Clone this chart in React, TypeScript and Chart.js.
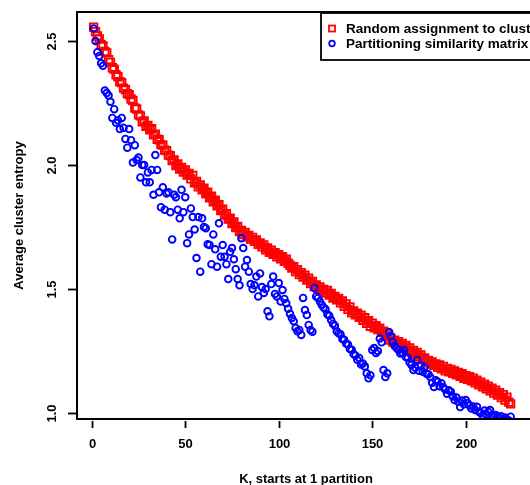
import React, { useEffect, useRef } from "react";
import { Chart, registerables } from "chart.js";

Chart.register(...registerables);

const redLabel = "Random assignment to clusters";
const blueLabel = "Partitioning similarity matrix";
const xTitle = "K, starts at 1 partition";
const yTitle = "Average cluster entropy";
const xTicks = [0, 50, 100, 150, 200];
const yTicks = [1.0, 1.5, 2.0, 2.5];

// Random assignment to clusters, K = 1..224
const redValues = [
  2.556, 2.538, 2.520, 2.508, 2.486, 2.480, 2.458, 2.452, 2.425, 2.414,
  2.392, 2.386, 2.364, 2.356, 2.336, 2.332, 2.310, 2.304, 2.288, 2.284,
  2.266, 2.260, 2.230, 2.226, 2.202, 2.198, 2.174, 2.178, 2.156, 2.160,
  2.142, 2.146, 2.122, 2.124, 2.104, 2.102, 2.082, 2.080, 2.060, 2.058,
  2.040, 2.038, 2.018, 2.020, 1.998, 2.004, 1.984, 1.990, 1.972, 1.980,
  1.960, 1.966, 1.944, 1.958, 1.928, 1.934, 1.912, 1.920, 1.900, 1.906,
  1.884, 1.890, 1.868, 1.874, 1.852, 1.858, 1.836, 1.840, 1.816, 1.822,
  1.798, 1.804, 1.782, 1.786, 1.764, 1.770, 1.748, 1.752, 1.732, 1.736,
  1.720, 1.728, 1.710, 1.716, 1.700, 1.708, 1.692, 1.698, 1.680, 1.686,
  1.670, 1.678, 1.658, 1.666, 1.648, 1.656, 1.640, 1.646, 1.630, 1.638,
  1.622, 1.630, 1.612, 1.620, 1.604, 1.596, 1.584, 1.590, 1.570, 1.578,
  1.558, 1.566, 1.548, 1.556, 1.536, 1.544, 1.522, 1.530, 1.510, 1.516,
  1.500, 1.508, 1.492, 1.498, 1.484, 1.494, 1.476, 1.482, 1.464, 1.470,
  1.456, 1.462, 1.444, 1.452, 1.430, 1.440, 1.418, 1.428, 1.404, 1.412,
  1.396, 1.402, 1.386, 1.394, 1.374, 1.384, 1.362, 1.372, 1.350, 1.362,
  1.344, 1.352, 1.336, 1.342, 1.324, 1.330, 1.310, 1.318, 1.294, 1.302,
  1.286, 1.294, 1.278, 1.288, 1.270, 1.280, 1.262, 1.272, 1.252, 1.262,
  1.244, 1.252, 1.236, 1.244, 1.226, 1.234, 1.216, 1.222, 1.204, 1.212,
  1.198, 1.206, 1.192, 1.198, 1.184, 1.194, 1.178, 1.188, 1.170, 1.180,
  1.166, 1.176, 1.160, 1.170, 1.154, 1.164, 1.148, 1.158, 1.140, 1.150,
  1.136, 1.146, 1.130, 1.140, 1.122, 1.132, 1.114, 1.124, 1.106, 1.116,
  1.098, 1.108, 1.090, 1.100, 1.080, 1.092, 1.072, 1.082, 1.062, 1.074,
  1.052, 1.064, 1.044, 1.037,
];

// Partitioning similarity matrix, K = 1..224
const blueValues = [
  2.550, 2.500, 2.455, 2.440, 2.410, 2.400, 2.300, 2.290, 2.280, 2.255,
  2.190, 2.225, 2.170, 2.180, 2.145, 2.190, 2.150, 2.105, 2.070, 2.145,
  2.100, 2.010, 2.080, 2.020, 2.030, 1.950, 2.000, 2.000, 1.930, 1.970,
  1.930, 1.980, 1.880, 2.040, 1.980, 1.890, 1.830, 1.910, 1.820, 1.885,
  1.890, 1.810, 1.700, 1.880, 1.870, 1.820, 1.785, 1.900, 1.810, 1.870,
  1.685, 1.720, 1.825, 1.790, 1.740, 1.625, 1.790, 1.570, 1.785, 1.750,
  1.745, 1.680, 1.677, 1.600, 1.720, 1.660, 1.590, 1.765, 1.630, 1.677,
  1.630, 1.600, 1.540, 1.650, 1.665, 1.620, 1.580, 1.540, 1.515, 1.705,
  1.665, 1.590, 1.617, 1.570, 1.520, 1.500, 1.515, 1.550, 1.470, 1.563,
  1.508, 1.484, 1.500, 1.410, 1.390, 1.520, 1.550, 1.480, 1.470, 1.524,
  1.450, 1.496, 1.460, 1.443, 1.420, 1.400, 1.383, 1.370, 1.343, 1.330,
  1.335, 1.315, 1.464, 1.415, 1.395, 1.355, 1.335, 1.328, 1.504, 1.470,
  1.464, 1.450, 1.436, 1.425, 1.418, 1.398, 1.392, 1.375, 1.360, 1.352,
  1.330, 1.322, 1.318, 1.298, 1.295, 1.280, 1.276, 1.258, 1.255, 1.238,
  1.232, 1.215, 1.222, 1.196, 1.200, 1.188, 1.160, 1.140, 1.152, 1.254,
  1.262, 1.242, 1.250, 1.300, 1.285, 1.173, 1.145, 1.160, 1.327, 1.310,
  1.286, 1.270, 1.262, 1.254, 1.240, 1.244, 1.254, 1.226, 1.222, 1.204,
  1.194, 1.173, 1.182, 1.214, 1.170, 1.192, 1.166, 1.185, 1.158, 1.156,
  1.145, 1.122, 1.105, 1.132, 1.126, 1.108, 1.120, 1.104, 1.095, 1.078,
  1.092, 1.086, 1.068, 1.052, 1.062, 1.045, 1.024, 1.050, 1.035, 1.052,
  1.040, 1.030, 1.018, 1.026, 1.012, 1.025, 1.005, 1.000, 0.990, 1.010,
  0.995, 1.005, 1.012, 0.990, 0.984, 0.992, 0.985, 0.980, 0.987, 0.975,
  0.982, 0.975, 0.970, 0.985,
];

const kValues = redValues.map((_, i) => i + 1);

const FONT = 'bold 13px "Liberation Sans", Arial, sans-serif';

const framePlugin = {
  id: "rframe",
  afterDraw(chart: any) {
    const { ctx, chartArea, scales } = chart;
    const { left, top, bottom, right } = chartArea;
    const xs = scales.x;
    const ys = scales.y;
    ctx.save();
    ctx.strokeStyle = "#000";
    ctx.fillStyle = "#000";
    ctx.lineWidth = 2;
    // plot box (right edge lies beyond the canvas)
    ctx.strokeRect(left, top, right - left + 10, bottom - top);

    ctx.font = FONT;
    ctx.textAlign = "center";
    ctx.textBaseline = "middle";
    ctx.lineWidth = 1.8;
    for (const v of yTicks) {
      const py = Math.round(ys.getPixelForValue(v)) + 0.5;
      ctx.beginPath();
      ctx.moveTo(left - 9, py);
      ctx.lineTo(left, py);
      ctx.stroke();
      ctx.save();
      ctx.translate(left - 25, py);
      ctx.rotate(-Math.PI / 2);
      ctx.fillText(v.toFixed(1), 0, 0);
      ctx.restore();
    }
    for (const v of xTicks) {
      const px = Math.round(xs.getPixelForValue(v)) + 0.5;
      ctx.beginPath();
      ctx.moveTo(px, bottom + 2);
      ctx.lineTo(px, bottom + 9);
      ctx.stroke();
      ctx.fillText(String(v), px, bottom + 25);
    }
    ctx.fillText(xTitle, 306, bottom + 60);
    ctx.save();
    ctx.translate(19, (top + bottom) / 2);
    ctx.rotate(-Math.PI / 2);
    ctx.fillText(yTitle, 0, 0);
    ctx.restore();

    // legend
    ctx.lineWidth = 1.8;
    ctx.strokeRect(321, top + 1, 240, 47);
    ctx.strokeStyle = "#FF0000";
    ctx.strokeRect(329, 25.5, 6, 6);
    ctx.strokeStyle = "#0000FF";
    ctx.beginPath();
    ctx.arc(332, 43.5, 2.8, 0, Math.PI * 2);
    ctx.stroke();
    ctx.textAlign = "left";
    ctx.fillStyle = "#000";
    ctx.font = 'bold 13.5px "Liberation Sans", Arial, sans-serif';
    ctx.fillText(redLabel, 346, 29);
    ctx.fillText(blueLabel, 346, 44);
    ctx.restore();
  },
};

export default function App() {
  const ref = useRef<HTMLCanvasElement | null>(null);
  useEffect(() => {
    if (!ref.current) return;
    const chart = new Chart(ref.current, {
      type: "scatter",
      data: {
        datasets: [
          {
            label: blueLabel,
            data: kValues.map((k, i) => ({ x: k, y: blueValues[i] })),
            pointStyle: "circle",
            pointRadius: 3.3,
            borderColor: "#0000FF",
            backgroundColor: "rgba(0,0,0,0)",
            borderWidth: 1.9,
            order: 1,
            clip: 0,
          },
          {
            label: redLabel,
            data: kValues.map((k, i) => ({ x: k, y: redValues[i] })),
            pointStyle: "rect",
            pointRadius: 5.3,
            borderColor: "#FF0000",
            backgroundColor: "rgba(0,0,0,0)",
            borderWidth: 1.9,
            order: 2,
            clip: 0,
          },
        ],
      },
      options: {
        animation: false,
        responsive: false,
        devicePixelRatio: 1,
        layout: { padding: { left: 77, top: 12, right: 0, bottom: 66 } },
        plugins: { legend: { display: false }, tooltip: { enabled: false } },
        scales: {
          x: { type: "linear", min: -7.9, max: 230.5, display: false },
          y: { type: "linear", min: 0.9758, max: 2.617, display: false },
        },
      },
      plugins: [framePlugin],
    });
    return () => chart.destroy();
  }, []);
  return (
    <div style={{ position: "fixed", left: 0, top: 0, width: 530, height: 485, overflow: "hidden", background: "#fff" }}>
      <canvas ref={ref} width={530} height={485} style={{ display: "block" }} />
    </div>
  );
}
